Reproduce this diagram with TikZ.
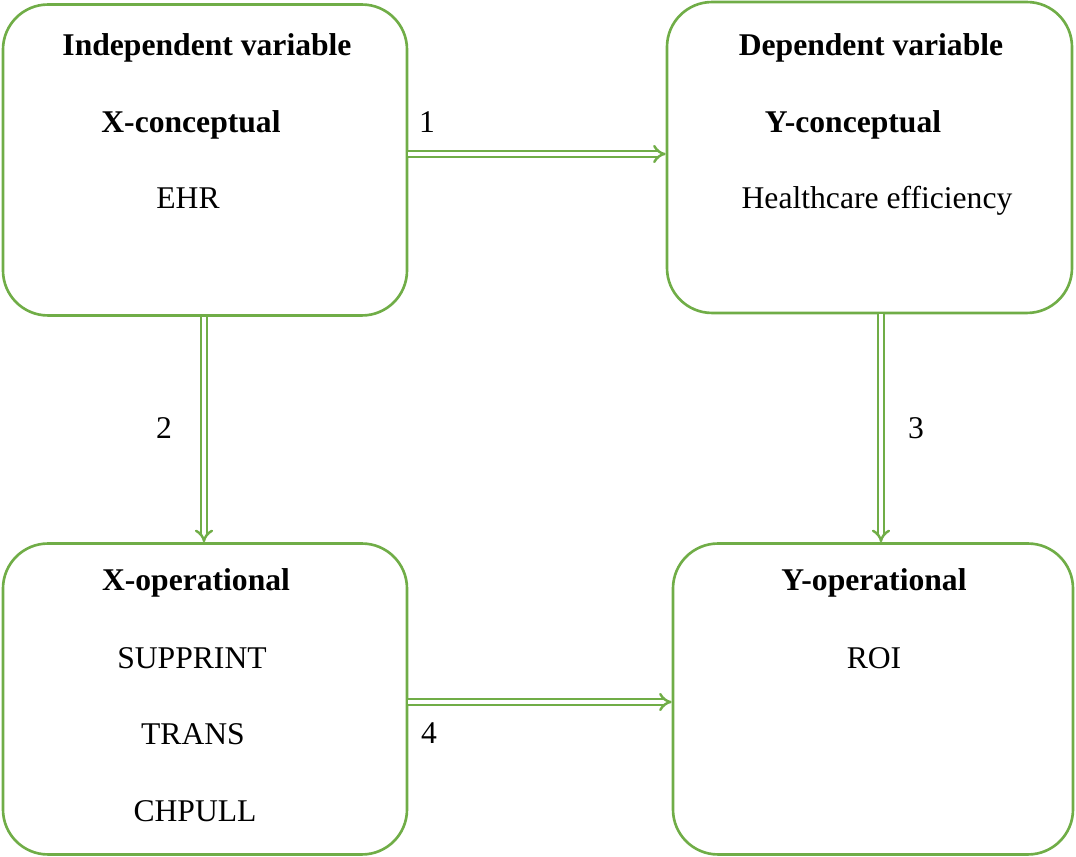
\documentclass[tikz,border=0pt]{standalone}
\usepackage{fontspec}
\setmainfont{Liberation Serif}
\usepackage{tikz}
\usetikzlibrary{arrows.meta, positioning, calc}
\definecolor{boxgreen}{RGB}{112,173,71}

\begin{document}
\begin{tikzpicture}[
  x=0.02cm, y=-0.02cm,
  varbox/.style={draw=boxgreen, line width=1.5pt, rounded corners=0.9cm, minimum width=#1*0.02cm, minimum height=6.22cm, inner sep=0pt},
  link/.style={draw=boxgreen, double=white, double distance=2pt, line width=1.4pt, -{Implies}},
  txt/.style={font=\fontsize{18pt}{22pt}\selectfont, anchor=base, inner sep=0pt},
  head/.style={txt, font=\fontsize{18pt}{22pt}\selectfont\bfseries}
]
  \useasboundingbox (0,0) rectangle (1076,857);

  % Boxes
  \node[varbox=404] (xcon) at (205,160) {};
  \node[varbox=405] (ycon) at (869.5,157.5) {};
  \node[varbox=404] (xop) at (205,699) {};
  \node[varbox=400] (yop) at (873,699) {};

  % Box 1: independent variable
  \node[head] (xcontitle) at (207,56) {Independent variable};
  \node[head] (xconname) at (191,133) {X-conceptual};
  \node[txt] (xconehr) at (188,209) {EHR};

  % Box 2: dependent variable
  \node[head] (ycontitle) at (871,56) {Dependent variable};
  \node[head] (yconname) at (853,133) {Y-conceptual};
  \node[txt] (yconeff) at (877,209) {Healthcare efficiency};

  % Box 3: X operational
  \node[head] (xopname) at (196,591) {X-operational};
  \node[txt] (xopsupp) at (192,669) {SUPPRINT};
  \node[txt] (xoptrans) at (193,745) {TRANS};
  \node[txt] (xopchp) at (195,822) {CHPULL};

  % Box 4: Y operational
  \node[head] (yopname) at (874,591) {Y-operational};
  \node[txt] (yoproi) at (874,669) {ROI};

  % Links
  \draw[link] (xcon.east |- 0,154) -- (ycon.west |- 0,154);
  \draw[link] (xcon.south -| 204,0) -- (xop.north -| 204,0);
  \draw[link] (ycon.south -| 881,0) -- (yop.north -| 881,0);
  \draw[link] (xop.east |- 0,702) -- (yop.west |- 0,702);

  % Link numbers
  \node[txt] (lone) at (427,133) {1};
  \node[txt] (ltwo) at (164,439) {2};
  \node[txt] (lthree) at (916,439) {3};
  \node[txt] (lfour) at (429,744) {4};
\end{tikzpicture}
\end{document}
